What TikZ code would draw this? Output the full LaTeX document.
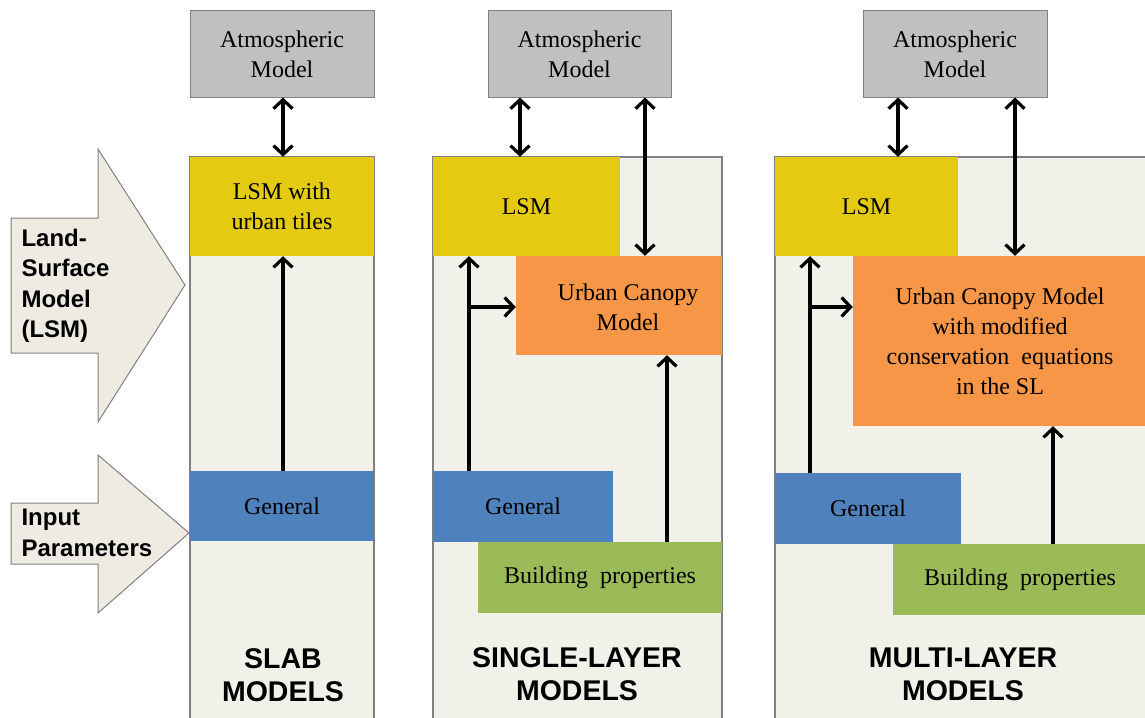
\documentclass[tikz,border=0pt]{standalone}
\usepackage{fontspec}
\setmainfont{Liberation Serif}
\newfontfamily\hsans{Liberation Sans}
\usetikzlibrary{arrows.meta}
\definecolor{panelc}{RGB}{241,240,233}
\definecolor{bigarr}{RGB}{237,235,226}
\definecolor{bordc}{RGB}{128,128,128}
\definecolor{atmosc}{RGB}{192,192,192}
\definecolor{lsmc}{RGB}{228,203,18}
\definecolor{ucmc}{RGB}{247,150,70}
\definecolor{genc}{RGB}{79,129,189}
\definecolor{bldc}{RGB}{155,187,89}
\tikzset{
  box/.style={rectangle, inner sep=0pt, align=center, font=\fontsize{24}{30}\selectfont},
  panel/.style={rectangle, inner sep=0pt, fill=panelc, draw=bordc, line width=1.2pt},
  atm/.style={box, fill=atmosc, draw=bordc, line width=1pt, minimum width=184pt, minimum height=86pt},
  ttl/.style={align=center, font=\hsans\bfseries\fontsize{28.5}{33}\selectfont},
  side/.style={align=left, anchor=west, font=\hsans\bfseries\fontsize{24}{30.5}\selectfont},
  bigarrow/.style={fill=bigarr, draw=bordc, line width=1pt, line join=miter},
  tipb/.tip={Straight Barb[length=9pt,width=19pt,line width=3.2pt]},
  conn/.style={line width=3.2pt, -tipb},
  dconn/.style={line width=3.2pt, tipb-tipb}
}
\begin{document}
\begin{tikzpicture}[x=1pt,y=-1pt]
\useasboundingbox (0,0) rectangle (1145,717);
\clip (0,0) rectangle (1145,717);

% left big arrows
\path[bigarrow] (11,218) -- (98,218) -- (98,149) -- (185,285) -- (98,422) -- (98,353) -- (11,353) -- cycle;
\path[bigarrow] (11,503) -- (98,503) -- (98,455) -- (189,533) -- (98,613) -- (98,564) -- (11,564) -- cycle;
\node[side] (lsmlab) at (18,286) {Land-\\Surface\\Model\\(LSM)};
\node[side] (inplab) at (18,533) {Input\\Parameters};

% panels
\node[panel, minimum width=184pt, minimum height=583pt] (P1) at (282,448.5) {};
\node[panel, minimum width=289pt, minimum height=583pt] (P2) at (577.5,448.5) {};
\node[panel, minimum width=380pt, minimum height=583pt] (P3) at (965,448.5) {};

% atmospheric models
\node[atm] (A1) at (282,54) {Atmospheric\\Model};
\node[atm, minimum width=183pt] (A2) at (579.5,54) {Atmospheric\\Model};
\node[atm] (A3) at (955,54) {Atmospheric\\Model};

% panel 1
\node[box, fill=lsmc, minimum width=184pt, minimum height=99pt] (L1) at (282,206.5) {LSM with\\urban tiles};
\node[box, fill=genc, minimum width=184pt, minimum height=70pt] (G1) at (282,506) {General};

% panel 2
\node[box, fill=lsmc, minimum width=187pt, minimum height=99pt] (L2) at (526.5,206.5) {LSM};
\node[box, fill=ucmc, minimum width=206pt, minimum height=99pt] (U2) at (619,305.5) {};
\node[box] (U2t) at (628,307) {Urban Canopy\\Model};
\node[box, fill=genc, minimum width=180pt, minimum height=71pt] (G2) at (523,506.5) {General};
\node[box, fill=bldc, minimum width=244pt, minimum height=71pt] (B2) at (600,577.5) {Building\ \ properties};

% panel 3
\node[box, fill=lsmc, minimum width=183pt, minimum height=99pt] (L3) at (866.5,206.5) {LSM};
\node[box, fill=ucmc, minimum width=294pt, minimum height=170pt] (U3) at (1000,341) {Urban Canopy Model\\with modified\\conservation\ \ equations\\in the SL};
\node[box, fill=genc, minimum width=186pt, minimum height=71pt] (G3) at (868,508.5) {General};
\node[box, fill=bldc, minimum width=254pt, minimum height=71pt] (B3) at (1020,579.5) {Building\ \ properties};

% titles
\node[ttl] (T1) at (283,675) {SLAB\\MODELS};
\node[ttl] (T2) at (577,674) {SINGLE-LAYER\\MODELS};
\node[ttl] (T3) at (963,674) {MULTI-LAYER\\MODELS};

% connector x positions
\coordinate (x1) at (283,0);
\coordinate (x2a) at (520,0);
\coordinate (x2b) at (645,0);
\coordinate (x2c) at (469,0);
\coordinate (x2d) at (667,0);
\coordinate (x3a) at (898,0);
\coordinate (x3b) at (1015,0);
\coordinate (x3c) at (810,0);
\coordinate (x3d) at (1053,0);
\coordinate (y2) at (0,307);

% panel 1 connectors
\draw[dconn] (A1.south -| x1) -- (L1.north -| x1);
\draw[conn] (G1.north -| x1) -- (L1.south -| x1);

% panel 2 connectors
\draw[dconn] (A2.south -| x2a) -- (L2.north -| x2a);
\draw[dconn] (A2.south -| x2b) -- (U2.north -| x2b);
\draw[conn] (G2.north -| x2c) -- (L2.south -| x2c);
\draw[conn] (x2c |- y2) -- (U2.west |- y2);
\draw[conn] (B2.north -| x2d) -- (U2.south -| x2d);

% panel 3 connectors
\draw[dconn] (A3.south -| x3a) -- (L3.north -| x3a);
\draw[dconn] (A3.south -| x3b) -- (U3.north -| x3b);
\draw[conn] (G3.north -| x3c) -- (L3.south -| x3c);
\draw[conn] (x3c |- y2) -- (U3.west |- y2);
\draw[conn] (B3.north -| x3d) -- (U3.south -| x3d);
\end{tikzpicture}
\end{document}
